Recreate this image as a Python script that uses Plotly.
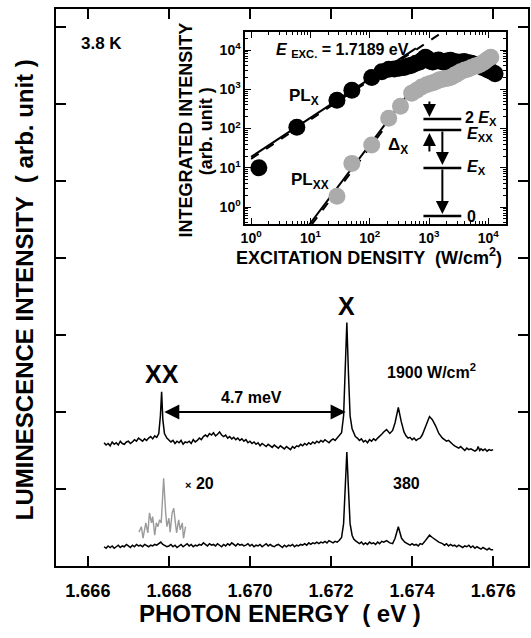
import plotly.graph_objects as go

# ---------------- data ----------------
# upper spectrum, 1900 W/cm^2
upper_E = [1.66640, 1.66645, 1.66650, 1.66655, 1.66660, 1.66665, 1.66670, 1.66675, 1.66680, 1.66685,
           1.66690, 1.66695, 1.66700, 1.66705, 1.66710, 1.66715, 1.66720, 1.66725, 1.66730, 1.66735,
           1.66740, 1.66745, 1.66750, 1.66755, 1.66760, 1.66765, 1.66770, 1.66775, 1.66779, 1.66782,
           1.66785, 1.66789, 1.66795, 1.66800, 1.66805, 1.66810, 1.66815, 1.66820, 1.66825, 1.66830,
           1.66835, 1.66840, 1.66845, 1.66850, 1.66855, 1.66860, 1.66865, 1.66870, 1.66875, 1.66880,
           1.66885, 1.66890, 1.66895, 1.66900, 1.66905, 1.66910, 1.66915, 1.66920, 1.66925, 1.66930,
           1.66935, 1.66940, 1.66945, 1.66950, 1.66955, 1.66960, 1.66965, 1.66970, 1.66975, 1.66980,
           1.66985, 1.66990, 1.66995, 1.67000, 1.67005, 1.67010, 1.67015, 1.67020, 1.67025, 1.67030,
           1.67035, 1.67040, 1.67045, 1.67050, 1.67055, 1.67060, 1.67065, 1.67070, 1.67075, 1.67080,
           1.67085, 1.67090, 1.67095, 1.67100, 1.67105, 1.67110, 1.67115, 1.67120, 1.67125, 1.67130,
           1.67135, 1.67140, 1.67145, 1.67150, 1.67155, 1.67160, 1.67165, 1.67170, 1.67175, 1.67180,
           1.67185, 1.67190, 1.67195, 1.67200, 1.67205, 1.67210, 1.67215, 1.67220, 1.67226, 1.67231,
           1.67235, 1.67239, 1.67243, 1.67247, 1.67252, 1.67256, 1.67260, 1.67265, 1.67270, 1.67275,
           1.67280, 1.67285, 1.67290, 1.67295, 1.67300, 1.67305, 1.67310, 1.67315, 1.67320, 1.67325,
           1.67330, 1.67337, 1.67345, 1.67352, 1.67358, 1.67366, 1.67373, 1.67380, 1.67385, 1.67390,
           1.67395, 1.67400, 1.67405, 1.67410, 1.67415, 1.67420, 1.67425, 1.67430, 1.67437, 1.67443,
           1.67450, 1.67458, 1.67466, 1.67475, 1.67480, 1.67485, 1.67490, 1.67495, 1.67500, 1.67505,
           1.67510, 1.67515, 1.67520, 1.67525, 1.67530, 1.67535, 1.67540, 1.67545, 1.67550, 1.67555,
           1.67560, 1.67563, 1.67567, 1.67570, 1.67575, 1.67580, 1.67585, 1.67590, 1.67595, 1.67600]
upper_I = [1.60, 1.57, 1.59, 1.56, 1.61, 1.58, 1.60, 1.57, 1.62, 1.59,
           1.58, 1.61, 1.62, 1.59, 1.61, 1.64, 1.62, 1.66, 1.64, 1.62,
           1.65, 1.63, 1.66, 1.68, 1.65, 1.69, 1.67, 1.72, 1.95, 2.26,
           1.90, 1.72, 1.66, 1.64, 1.61, 1.63, 1.59, 1.62, 1.60, 1.63,
           1.58, 1.61, 1.60, 1.62, 1.59, 1.64, 1.61, 1.63, 1.66, 1.64,
           1.68, 1.70, 1.68, 1.72, 1.70, 1.73, 1.69, 1.71, 1.74, 1.70,
           1.68, 1.70, 1.66, 1.68, 1.65, 1.67, 1.64, 1.66, 1.63, 1.65,
           1.62, 1.64, 1.60, 1.62, 1.59, 1.61, 1.58, 1.60, 1.56, 1.59,
           1.57, 1.55, 1.58, 1.56, 1.54, 1.57, 1.55, 1.53, 1.56, 1.54,
           1.52, 1.55, 1.53, 1.51, 1.55, 1.53, 1.56, 1.55, 1.58, 1.56,
           1.59, 1.57, 1.60, 1.58, 1.61, 1.59, 1.62, 1.60, 1.63, 1.61,
           1.64, 1.62, 1.60, 1.63, 1.65, 1.63, 1.66, 1.68, 1.73, 1.95,
           2.55, 3.16, 2.50, 1.95, 1.78, 1.72, 1.68, 1.66, 1.63, 1.65,
           1.61, 1.63, 1.60, 1.64, 1.62, 1.65, 1.63, 1.66, 1.68, 1.71,
           1.74, 1.77, 1.72, 1.76, 1.86, 2.06, 1.88, 1.74, 1.69, 1.66,
           1.67, 1.64, 1.66, 1.63, 1.65, 1.66, 1.70, 1.76, 1.86, 1.94,
           1.90, 1.82, 1.72, 1.66, 1.64, 1.62, 1.63, 1.60, 1.58, 1.56,
           1.54, 1.53, 1.55, 1.52, 1.50, 1.53, 1.51, 1.52, 1.50, 1.49,
           1.51, 1.55, 1.50, 1.52, 1.50, 1.52, 1.49, 1.51, 1.50, 1.51]

# lower spectrum, 380 W/cm^2
lower_E = [1.66640, 1.66645, 1.66650, 1.66655, 1.66660, 1.66665, 1.66670, 1.66675, 1.66680, 1.66685,
           1.66690, 1.66695, 1.66700, 1.66705, 1.66710, 1.66715, 1.66720, 1.66725, 1.66730, 1.66735,
           1.66740, 1.66745, 1.66750, 1.66755, 1.66760, 1.66765, 1.66770, 1.66775, 1.66780, 1.66785,
           1.66790, 1.66795, 1.66800, 1.66805, 1.66810, 1.66815, 1.66820, 1.66825, 1.66830, 1.66835,
           1.66840, 1.66845, 1.66850, 1.66855, 1.66860, 1.66865, 1.66870, 1.66875, 1.66880, 1.66885,
           1.66890, 1.66895, 1.66900, 1.66905, 1.66910, 1.66915, 1.66920, 1.66925, 1.66930, 1.66935,
           1.66940, 1.66945, 1.66950, 1.66955, 1.66960, 1.66965, 1.66970, 1.66975, 1.66980, 1.66985,
           1.66990, 1.66995, 1.67000, 1.67005, 1.67010, 1.67015, 1.67020, 1.67025, 1.67030, 1.67035,
           1.67040, 1.67045, 1.67050, 1.67055, 1.67060, 1.67065, 1.67070, 1.67075, 1.67080, 1.67085,
           1.67090, 1.67095, 1.67100, 1.67105, 1.67110, 1.67115, 1.67120, 1.67125, 1.67130, 1.67135,
           1.67140, 1.67145, 1.67150, 1.67155, 1.67160, 1.67165, 1.67170, 1.67175, 1.67180, 1.67185,
           1.67190, 1.67195, 1.67200, 1.67205, 1.67210, 1.67215, 1.67220, 1.67226, 1.67231, 1.67235,
           1.67239, 1.67243, 1.67247, 1.67252, 1.67256, 1.67260, 1.67265, 1.67270, 1.67275, 1.67280,
           1.67285, 1.67290, 1.67295, 1.67300, 1.67305, 1.67310, 1.67315, 1.67320, 1.67325, 1.67330,
           1.67337, 1.67345, 1.67352, 1.67358, 1.67366, 1.67374, 1.67382, 1.67390, 1.67395, 1.67400,
           1.67405, 1.67410, 1.67415, 1.67420, 1.67425, 1.67430, 1.67437, 1.67443, 1.67450, 1.67458,
           1.67466, 1.67475, 1.67480, 1.67485, 1.67490, 1.67495, 1.67500, 1.67505, 1.67510, 1.67515,
           1.67520, 1.67525, 1.67530, 1.67535, 1.67540, 1.67545, 1.67550, 1.67555, 1.67560, 1.67565,
           1.67570, 1.67575, 1.67580, 1.67585, 1.67590, 1.67595, 1.67600]
lower_I = [0.25, 0.23, 0.26, 0.24, 0.26, 0.23, 0.25, 0.27, 0.24, 0.26,
           0.25, 0.28, 0.26, 0.24, 0.27, 0.25, 0.28, 0.26, 0.27, 0.25,
           0.28, 0.26, 0.25, 0.27, 0.26, 0.28, 0.27, 0.29, 0.31, 0.28,
           0.27, 0.25, 0.26, 0.28, 0.25, 0.27, 0.24, 0.26, 0.28, 0.25,
           0.27, 0.29, 0.26, 0.28, 0.25, 0.27, 0.26, 0.28, 0.27, 0.30,
           0.28, 0.26, 0.29, 0.27, 0.28, 0.26, 0.29, 0.27, 0.25, 0.28,
           0.26, 0.29, 0.27, 0.30, 0.28, 0.26, 0.29, 0.27, 0.28, 0.26,
           0.27, 0.29, 0.26, 0.28, 0.25, 0.27, 0.26, 0.28, 0.25, 0.27,
           0.29, 0.26, 0.28, 0.26, 0.25, 0.27, 0.28, 0.26, 0.24, 0.27,
           0.25, 0.27, 0.26, 0.28, 0.25, 0.27, 0.26, 0.28, 0.27, 0.29,
           0.27, 0.30, 0.28, 0.30, 0.29, 0.31, 0.29, 0.31, 0.30, 0.32,
           0.30, 0.33, 0.31, 0.30, 0.32, 0.31, 0.33, 0.37, 0.55, 1.05,
           1.48, 1.00, 0.55, 0.40, 0.35, 0.33, 0.31, 0.29, 0.31, 0.28,
           0.30, 0.28, 0.31, 0.29, 0.30, 0.28, 0.31, 0.29, 0.32, 0.31,
           0.33, 0.30, 0.29, 0.36, 0.51, 0.36, 0.31, 0.29, 0.27, 0.29,
           0.27, 0.28, 0.26, 0.29, 0.28, 0.31, 0.36, 0.40, 0.37, 0.34,
           0.31, 0.29, 0.27, 0.29, 0.26, 0.28, 0.26, 0.27, 0.25, 0.27,
           0.26, 0.24, 0.26, 0.25, 0.27, 0.24, 0.26, 0.23, 0.25, 0.24,
           0.22, 0.24, 0.23, 0.21, 0.23, 0.21, 0.21]

# x20 magnified XX region of the lower spectrum (gray)
mag_E = [1.66726, 1.66732, 1.66736, 1.66743, 1.66748, 1.66752, 1.66757, 1.66760, 1.66765, 1.66769,
         1.66773, 1.66777, 1.66781, 1.66787, 1.66792, 1.66795, 1.66800, 1.66803, 1.66808, 1.66812,
         1.66816, 1.66819, 1.66824, 1.66828, 1.66833, 1.66836, 1.66841]
mag_I = [0.44, 0.51, 0.36, 0.56, 0.43, 0.69, 0.56, 0.64, 0.40, 0.56,
         0.51, 0.60, 0.56, 1.14, 0.69, 0.51, 0.62, 0.44, 0.69, 0.75,
         0.56, 0.43, 0.60, 0.47, 0.56, 0.36, 0.51]

# inset: integrated intensity vs excitation density
plx_P = [1.35, 5.9, 28, 50, 108, 160, 210, 260, 310, 380, 450, 510, 600, 700, 800, 870,
         950, 1050, 1150, 1300, 1450, 1600, 1800, 2000, 2300, 2600, 3000, 3400, 3900, 4500,
         5200, 6000, 7000, 8000, 9500, 11000, 13000]
plx_I = [10, 108, 530, 950, 2000, 2800, 3250, 3300, 3450, 3600, 3900, 4100, 4600, 5000, 5800, 6600,
         6000, 5200, 5000, 5300, 5600, 5100, 4900, 5300, 5500, 5100, 5000, 4900, 5100, 4800,
         4600, 4300, 4000, 3600, 3200, 2900, 2500]
plxx_P = [28, 50, 108, 209, 330, 510, 620, 750, 910, 1050, 1200, 1350, 1500, 1700, 1900,
          2150, 2400, 2700, 3000, 3400, 4000, 4600, 5200, 6000, 6800, 7600, 8500, 9500, 11000]
plxx_I = [1.9, 13, 38, 183, 370, 800, 950, 1150, 1300, 1400, 1500, 1600, 1750, 1800, 1900,
          1950, 2050, 2300, 2500, 2800, 3100, 3300, 3600, 3900, 4100, 4500, 5000, 5700, 6600]
# fitted lines (end points)
fitx_solid_P, fitx_solid_I = [1.0, 600], [19, 11000]
fitx_dash_P, fitx_dash_I = [1.0, 1600], [17, 27000]
fitxx_solid_P, fitxx_solid_I = [9.6, 600], [0.36, 1400]
fitxx_dash_P, fitxx_dash_I = [10.5, 700], [0.36, 1600]

x_ticks = [1.666, 1.668, 1.670, 1.672, 1.674, 1.676]
x_ticktext = ["1.666", "1.668", "1.670", "1.672", "1.674", "1.676"]
inset_ticks = [1, 10, 100, 1000, 10000]
inset_ticktext = ["10<sup>0</sup>", "10<sup>1</sup>", "10<sup>2</sup>", "10<sup>3</sup>", "10<sup>4</sup>"]
inset_yticks = [1, 10, 100, 1000, 10000]

# ---------------- layout helpers ----------------
W, H = 531, 638
L, R, T, B = 56, 530, 9, 566
FONT = "Liberation Sans, Arial, Helvetica, sans-serif"


def px(x):
    return (x - L) / (R - L)


def py(y):
    return (B - y) / (B - T)


fig = go.Figure()

fig.add_trace(go.Scatter(x=upper_E, y=upper_I, mode="lines",
                         line=dict(color="black", width=1.5), xaxis="x", yaxis="y"))
fig.add_trace(go.Scatter(x=lower_E, y=lower_I, mode="lines",
                         line=dict(color="black", width=1.5), xaxis="x", yaxis="y"))
fig.add_trace(go.Scatter(x=mag_E, y=mag_I, mode="lines",
                         line=dict(color="#9a9a9a", width=1.4), xaxis="x", yaxis="y"))

# inset traces
fig.add_trace(go.Scatter(x=fitx_solid_P, y=fitx_solid_I, mode="lines",
                         line=dict(color="black", width=2), xaxis="x2", yaxis="y2"))
fig.add_trace(go.Scatter(x=fitx_dash_P, y=fitx_dash_I, mode="lines",
                         line=dict(color="black", width=2, dash="dash"), xaxis="x2", yaxis="y2"))
fig.add_trace(go.Scatter(x=fitxx_solid_P, y=fitxx_solid_I, mode="lines",
                         line=dict(color="black", width=2), xaxis="x2", yaxis="y2"))
fig.add_trace(go.Scatter(x=fitxx_dash_P, y=fitxx_dash_I, mode="lines",
                         line=dict(color="black", width=2, dash="dash"), xaxis="x2", yaxis="y2"))
fig.add_trace(go.Scatter(x=plx_P, y=plx_I, mode="markers",
                         marker=dict(color="black", size=17, line=dict(width=0)),
                         xaxis="x2", yaxis="y2"))
fig.add_trace(go.Scatter(x=plxx_P, y=plxx_I, mode="markers",
                         marker=dict(color="#ababab", size=17, line=dict(width=0)),
                         xaxis="x2", yaxis="y2"))

ann = []


def text(x, y, s, size=16, xanchor="center", angle=0):
    ann.append(dict(x=px(x), y=py(y), xref="paper", yref="paper", text=s, showarrow=False,
                    xanchor=xanchor, yanchor="middle", textangle=angle,
                    font=dict(family=FONT, size=size, color="black", weight="bold")))


# main panel texts
text(102, 43, "3.8 K", 17)
text(348, 306, "X", 25)
text(162, 374, "XX", 25)
text(252, 397, "4.7 meV", 16)
text(433, 371, "1900 W/cm<sup>2</sup>", 16)
text(200, 484, "<span style='font-size:11px'>×</span> 20", 16)
text(408, 484, "380", 16)
text(281, 613, "PHOTON ENERGY &nbsp;( eV )", 24)
text(24, 290, "LUMINESCENCE INTENSITY &nbsp;( arb. unit )", 24, angle=-90)

# inset texts
text(187, 130, "INTEGRATED INTENSITY", 18, angle=-90)
text(207, 131, "(arb. unit )", 18, angle=-90)
text(370, 256, "EXCITATION DENSITY &nbsp;(W/cm<sup>2</sup>)", 18)
text(275, 50, "<i>E</i> <sub>EXC.</sub> = 1.7189 eV", 16, xanchor="left")
text(305, 97, "PL<sub>X</sub>", 17)
text(311, 181, "PL<sub>XX</sub>", 17)
text(399, 146, "Δ<sub>X</sub>", 17)
text(465, 119, "2 <i>E</i><sub>X</sub>", 16, xanchor="left")
text(467, 134, "<i>E</i><sub>XX</sub>", 16, xanchor="left")
text(467, 168, "<i>E</i><sub>X</sub>", 16, xanchor="left")
text(467, 216, "0", 16, xanchor="left")

# 4.7 meV double arrow (between XX and X peaks)
ann.append(dict(x=1.67236, y=2.0, xref="x", yref="y", ax=1.66785, ay=2.0, axref="x", ayref="y",
                text="", showarrow=True, arrowhead=2, startarrowhead=2, arrowside="end+start",
                arrowwidth=2, arrowsize=1.5, startarrowsize=1.5, arrowcolor="black",
                standoff=0, startstandoff=0))


def arrow(x, y_head, y_tail):
    ann.append(dict(x=px(x), y=py(y_head), xref="paper", yref="paper",
                    ax=0, ay=y_tail - y_head, axref="pixel", ayref="pixel",
                    text="", showarrow=True, arrowhead=2, arrowwidth=2, arrowsize=1.3,
                    arrowcolor="black", standoff=0))


arrow(431, 117, 100)
arrow(431, 133, 153)
arrow(444, 165, 130)
arrow(444, 214, 168)

shapes = []
for yl in [119, 130, 168, 216]:
    shapes.append(dict(type="line", xref="paper", yref="paper", x0=px(425), x1=px(463),
                       y0=py(yl), y1=py(yl), line=dict(color="black", width=2.5)))

axis_common = dict(showline=True, linecolor="black", mirror="ticks", ticks="inside",
                   tickcolor="black", showgrid=False, zeroline=False)

fig.update_layout(
    width=W, height=H,
    margin=dict(l=L, r=W - R, t=T, b=H - B),
    paper_bgcolor="white", plot_bgcolor="white",
    showlegend=False,
    font=dict(family=FONT, color="black", size=14),
    xaxis=dict(domain=[0, 1], range=[1.665214, 1.67686], tickvals=x_ticks, ticktext=x_ticktext,
               ticklen=10, tickwidth=1.5, linewidth=1.5, ticklabelstandoff=8,
               tickfont=dict(family=FONT, size=18, weight="bold"), anchor="y", **axis_common),
    yaxis=dict(domain=[0, 1], range=[0, 7.23], tickvals=[1, 2, 3, 4, 5, 6, 7],
               showticklabels=False, ticklen=10, tickwidth=1.5, linewidth=1.5,
               anchor="x", **axis_common),
    xaxis2=dict(domain=[px(246), px(508)], type="log", range=[-0.1, 4.3], anchor="y2",
                tickvals=inset_ticks, ticktext=inset_ticktext, ticklen=6, tickwidth=1.2,
                linewidth=1.5, tickfont=dict(family=FONT, size=14, weight="bold"),
                minor=dict(ticks="inside", ticklen=3, tickcolor="black",
                           tickvals=[m * d for d in [1, 10, 100, 1000, 10000] for m in range(2, 10)]),
                **axis_common),
    yaxis2=dict(domain=[py(224), py(32)], type="log", range=[-0.43, 4.46], anchor="x2",
                tickvals=inset_yticks, ticktext=inset_ticktext, ticklen=6, tickwidth=1.2,
                linewidth=1.5, tickfont=dict(family=FONT, size=14, weight="bold"),
                minor=dict(ticks="inside", ticklen=3, tickcolor="black",
                           tickvals=[m * d for d in [0.1, 1, 10, 100, 1000, 10000] for m in range(2, 10)]),
                **axis_common),
    annotations=ann,
    shapes=shapes,
)

fig.write_html("out.html")
